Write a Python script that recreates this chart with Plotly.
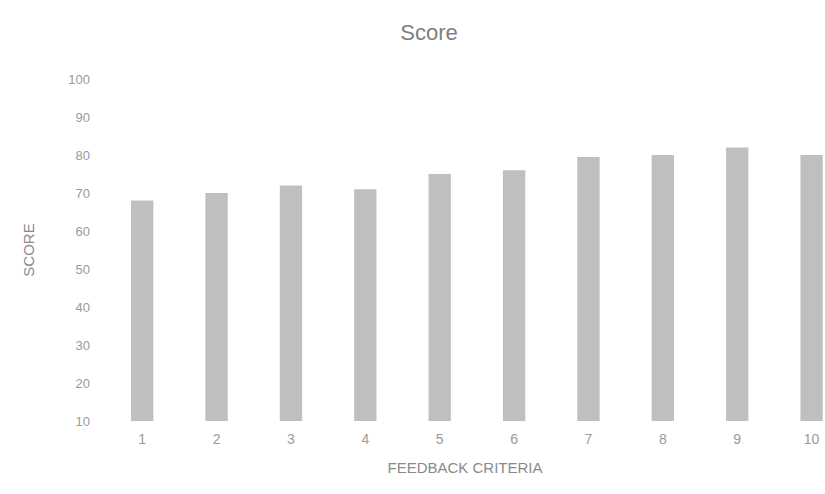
import plotly.graph_objects as go

# Feedback criteria and their scores
criteria = [1, 2, 3, 4, 5, 6, 7, 8, 9, 10]
scores = [68, 70, 72, 71, 75, 76, 79.5, 80, 82, 80]
y_ticks = [10, 20, 30, 40, 50, 60, 70, 80, 90, 100]

fig = go.Figure(
    go.Bar(
        x=criteria,
        y=scores,
        width=0.3,
        marker=dict(color="#bfbfbf", line=dict(width=0)),
    )
)

fig.update_layout(
    width=825,
    height=494,
    paper_bgcolor="white",
    plot_bgcolor="white",
    margin=dict(l=105, r=0, t=79, b=73),
    font=dict(family="Liberation Sans, Arial, sans-serif", color="#9a9a9a"),
    title=dict(
        text="Score",
        x=0.52,
        xanchor="center",
        y=0.935,
        yanchor="middle",
        font=dict(size=22, color="#7f7f7f"),
    ),
    showlegend=False,
    bargap=0.7,
)

fig.update_xaxes(
    range=[0.5, 10.18],
    tickvals=criteria,
    ticktext=[str(c) for c in criteria],
    showgrid=False,
    zeroline=False,
    showline=False,
    ticks="",
    ticklabelstandoff=8,
    tickfont=dict(size=14, color="#9a9a9a"),
    title=dict(text="FEEDBACK CRITERIA", font=dict(size=15, color="#8a8a8a"), standoff=16),
)

fig.update_yaxes(
    range=[10, 100],
    tickvals=y_ticks,
    showgrid=False,
    zeroline=False,
    showline=False,
    ticks="",
    ticklabelstandoff=14,
    tickfont=dict(size=13, color="#9a9a9a"),
    title=dict(text="SCORE", font=dict(size=15, color="#8a8a8a"), standoff=30),
)

fig.write_html("out.html")
